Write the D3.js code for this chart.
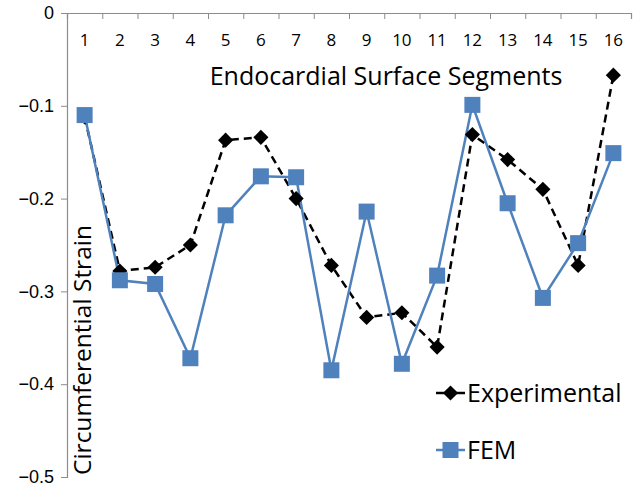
<!DOCTYPE html>
<html>
<head>
<meta charset="utf-8">
<script src="https://cdn.jsdelivr.net/npm/d3@7"></script>
<style>
  body { margin: 0; background: #fff; }
  svg { display: block; font-family: "Open Sans", sans-serif; }
</style>
</head>
<body>
<svg width="636" height="487"></svg>
<script>
const segments = [1, 2, 3, 4, 5, 6, 7, 8, 9, 10, 11, 12, 13, 14, 15, 16]
const experimental = [-0.112, -0.278, -0.274, -0.250, -0.137, -0.134, -0.200, -0.272,
  -0.328, -0.323, -0.360, -0.131, -0.158, -0.190, -0.272, -0.067]
const fem = [-0.110, -0.288, -0.292, -0.372, -0.218, -0.176, -0.177, -0.385,
  -0.214, -0.378, -0.283, -0.099, -0.205, -0.307, -0.248, -0.151]
const yTicks = [0, -0.1, -0.2, -0.3, -0.4, -0.5]

const svg = d3.select('svg')
const margin = {top: 13, right: 5, bottom: 10, left: 67}
const width = 636, height = 487
const innerWidth = width - margin.left - margin.right
const innerHeight = 477 - margin.top

const g = svg.append('g')
  .attr('transform', `translate(${margin.left}, ${margin.top})`)

const xScale = d3.scaleBand().domain(segments).range([0, innerWidth])
const yScale = d3.scaleLinear().domain([0, -0.5]).range([0, innerHeight])
const xc = d => xScale(d) + xScale.bandwidth() / 2

// y axis
const yAxis = d3.axisLeft(yScale).tickValues(yTicks)
  .tickFormat(d => d === 0 ? '0' : d3.format('.1f')(d)).tickSize(6).tickPadding(7)
const yG = g.append('g').call(yAxis)
yG.select('.domain').attr('stroke', '#8c8c8c').attr('stroke-width', 1.2)
yG.selectAll('.tick line').attr('stroke', '#8c8c8c')
yG.selectAll('.tick text').attr('font-size', 18).attr('fill', '#000')

// top x axis with ticks pointing in
const xAxis = d3.axisTop(d3.scaleLinear().domain([0, 16]).range([0, innerWidth]))
  .tickValues(d3.range(0, 17)).tickSize(-6).tickFormat('')
const xG = g.append('g').call(xAxis)
xG.select('.domain').attr('stroke', '#8c8c8c').attr('stroke-width', 1.2)
xG.selectAll('.tick line').attr('stroke', '#8c8c8c')

g.selectAll('.seg-label').data(segments).join('text')
  .attr('x', d => xc(d)).attr('y', 33)
  .attr('text-anchor', 'middle').attr('font-size', 17).attr('fill', '#000')
  .text(d => d)

g.append('text').attr('x', 319).attr('y', 72)
  .attr('text-anchor', 'middle').attr('font-size', 25).attr('fill', '#000')
  .text('Endocardial Surface Segments')

g.append('text')
  .attr('transform', `translate(24, ${innerHeight - 2}) rotate(-90)`)
  .attr('font-size', 24.5).attr('fill', '#000')
  .text('Circumferential Strain')

// lines
const line = data => d3.line().x((d, i) => xc(segments[i])).y(d => yScale(d))(data)

g.append('path').attr('d', line(experimental))
  .attr('fill', 'none').attr('stroke', '#000').attr('stroke-width', 2.5)
  .attr('stroke-dasharray', '8,5')
g.append('path').attr('d', line(fem))
  .attr('fill', 'none').attr('stroke', '#4f81bd').attr('stroke-width', 2.5)

const diamond = d3.symbol().type(d3.symbolSquare).size(115)
g.selectAll('.exp').data(experimental).join('path')
  .attr('d', diamond)
  .attr('transform', (d, i) => `translate(${xc(segments[i])}, ${yScale(d)}) rotate(45)`)
  .attr('fill', '#000')

g.selectAll('.fem').data(fem).join('rect')
  .attr('x', (d, i) => xc(segments[i]) - 8).attr('y', d => yScale(d) - 8)
  .attr('width', 16).attr('height', 16).attr('fill', '#4f81bd')

// legend
const legend = svg.append('g')
legend.append('line').attr('x1', 436).attr('x2', 465).attr('y1', 393).attr('y2', 393)
  .attr('stroke', '#000').attr('stroke-width', 2.5)
legend.append('path').attr('d', diamond)
  .attr('transform', 'translate(450.5, 393) rotate(45)').attr('fill', '#000')
legend.append('text').attr('x', 467).attr('y', 402).attr('font-size', 25).attr('fill', '#000')
  .text('Experimental')
legend.append('line').attr('x1', 436).attr('x2', 465).attr('y1', 450).attr('y2', 450)
  .attr('stroke', '#4f81bd').attr('stroke-width', 2.5)
legend.append('rect').attr('x', 442.5).attr('y', 442).attr('width', 16).attr('height', 16)
  .attr('fill', '#4f81bd')
legend.append('text').attr('x', 467).attr('y', 459).attr('font-size', 25).attr('fill', '#000')
  .text('FEM')
</script>
</body>
</html>
